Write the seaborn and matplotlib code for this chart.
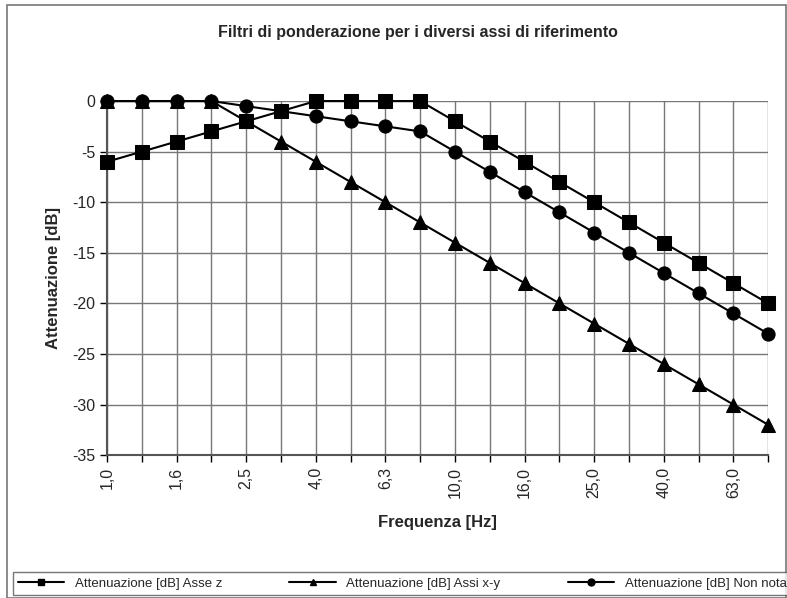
import numpy as np
import pandas as pd
import seaborn as sns
import matplotlib.pyplot as plt
from matplotlib.patches import Rectangle
from matplotlib.lines import Line2D

# Data
freq = ["1,0", "1,3", "1,6", "2,0", "2,5", "3,2", "4,0", "5,0", "6,3", "8,0",
        "10,0", "12,5", "16,0", "20,0", "25,0", "31,5", "40,0", "50,0", "63,0", "80,0"]
asse_z = [-6, -5, -4, -3, -2, -1, 0, 0, 0, 0, -2, -4, -6, -8, -10, -12, -14, -16, -18, -20]
assi_xy = [0, 0, 0, 0, -2, -4, -6, -8, -10, -12, -14, -16, -18, -20, -22, -24, -26, -28, -30, -32]
non_nota = [0, 0, 0, 0, -0.5, -1, -1.5, -2, -2.5, -3, -5, -7, -9, -11, -13, -15, -17, -19, -21, -23]

series = {
    "Attenuazione [dB] Asse z": (asse_z, "s"),
    "Attenuazione [dB] Assi x-y": (assi_xy, "^"),
    "Attenuazione [dB] Non nota": (non_nota, "o"),
}

sns.set_style("white")
plt.rcParams['font.family'] = ['Liberation Sans', 'DejaVu Sans']
plt.rcParams['axes.unicode_minus'] = False

fig = plt.figure(figsize=(7.87, 5.98), dpi=100)
ax = fig.add_axes([0.136, 0.239, 0.840, 0.592])

idx = np.arange(len(freq))
for name, (vals, mk) in series.items():
    sns.lineplot(x=idx, y=vals, marker=mk, color="black", linewidth=1.5,
                 markeredgecolor="black", ax=ax)

for ln in ax.lines:
    ln.set_markersize(9.5 if ln.get_marker() != "^" else 10)
    ln.set_clip_on(False)
    ln.set_zorder(5)

ax.set_xlim(0, len(freq) - 1)
ax.set_ylim(-35, 0)
ax.set_yticks(range(-35, 1, 5))
ax.set_xticks(idx)
ax.set_xticklabels([f if i % 2 == 0 else "" for i, f in enumerate(freq)], rotation=90, fontsize=11.5)
ax.tick_params(axis="y", labelsize=11.5)
ax.tick_params(axis="both", direction="out", length=5, color="black", width=1, bottom=True, left=True)
ax.grid(True, color="#777777", linewidth=1)
for s in ["top", "right"]:
    ax.spines[s].set_visible(False)
for s in ["left", "bottom"]:
    ax.spines[s].set_color("#555555")
    ax.spines[s].set_linewidth(1.5)

ax.set_xlabel("Frequenza [Hz]", fontsize=12, fontweight="bold", labelpad=12)
ax.set_ylabel("Attenuazione [dB]", fontsize=12, fontweight="bold", labelpad=8)
fig.text(0.531, 0.945, "Filtri di ponderazione per i diversi assi di riferimento",
         ha="center", va="center", fontsize=11.5, fontweight="bold")

handles = [Line2D([], [], color="black", linewidth=1.5, marker=mk, markersize=5)
           for _, (_, mk) in series.items()]
labels = list(series.keys())
leg = fig.legend(handles, labels, loc="lower left", ncol=3, fontsize=9.5,
                 bbox_to_anchor=(0.016, 0.005, 0.99, 0.054), mode="expand",
                 frameon=True, fancybox=False, handlelength=3.5, borderaxespad=0)
leg.get_frame().set_edgecolor("#555555")
leg.get_frame().set_linewidth(1)

fig.patches.append(Rectangle((0.009, 0.0), 0.99, 0.992, transform=fig.transFigure,
                             fill=False, edgecolor="#777777", linewidth=1.2))

fig.savefig("out.png", dpi=100)
